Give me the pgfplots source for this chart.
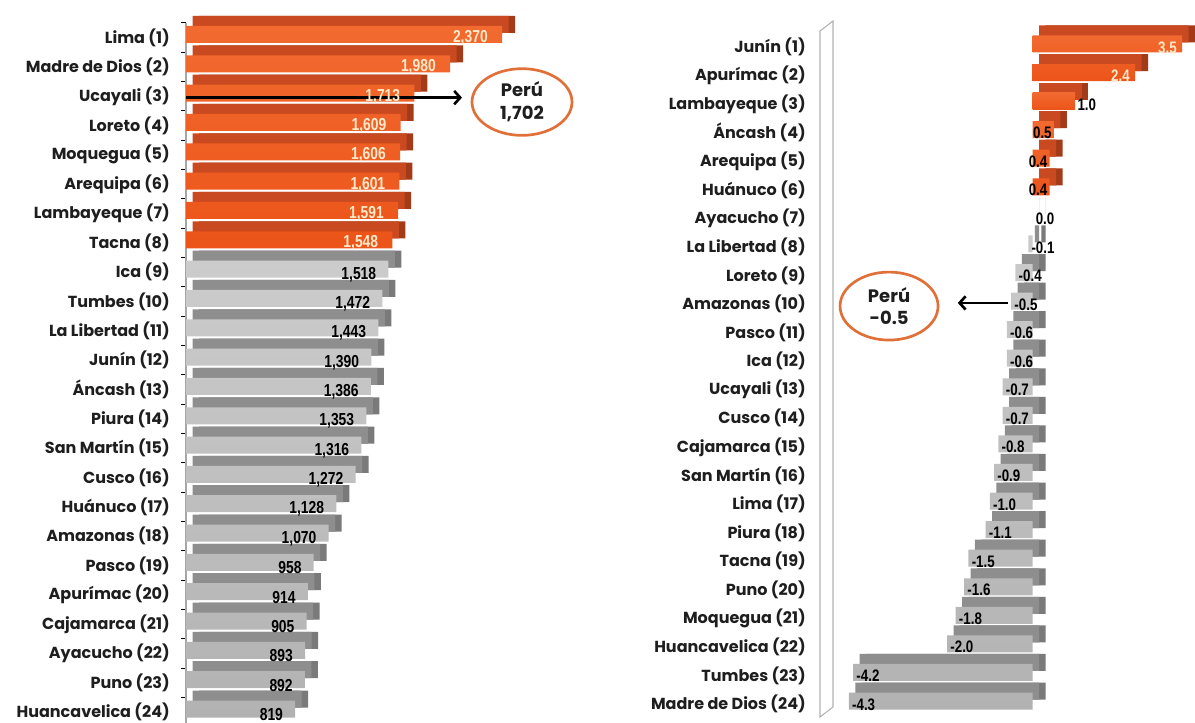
\documentclass[border=0pt]{standalone}
\usepackage{pgfplots}
\pgfplotsset{compat=1.18}
\usepackage{pgfplotstable}
\usetikzlibrary{arrows.meta}
\usepackage{fontspec}
\setmainfont{Poppins}
\newfontfamily\labfont{Poppins}
\newfontfamily\numfont[FakeStretch=0.8]{Liberation Sans}

% front (two tones), top and side faces
\definecolor{oF1}{HTML}{F26A30}
\definecolor{oF2}{HTML}{EC5419}
\definecolor{oT}{HTML}{C94A20}
\definecolor{oS}{HTML}{A33A18}
\definecolor{gF1}{HTML}{CCCCCC}
\definecolor{gF2}{HTML}{B2B2B2}
\definecolor{gT}{HTML}{8E8E8E}
\definecolor{gS}{HTML}{7A7A7A}
\definecolor{cream}{HTML}{FFE9C8}
\definecolor{ell}{HTML}{E07038}
\definecolor{txt}{HTML}{1E1E1E}

% left: ingreso promedio
\pgfplotstableread{
y v
1 2370
2 1980
3 1713
4 1609
5 1606
6 1601
7 1591
8 1548
}\leftA
\pgfplotstableread{
y v
9 1518
10 1472
11 1443
12 1390
13 1386
14 1353
15 1316
16 1272
17 1128
18 1070
19 958
20 914
21 905
22 893
23 892
24 819
}\leftB

% right: variacion
\pgfplotstableread{
y v
1 3.5
2 2.4
}\rightA
\pgfplotstableread{
y v
3 1.0
}\rightB
\pgfplotstableread{
y v
4 0.5
5 0.4
6 0.4
}\rightC
\pgfplotstableread{
y v
7 0.0
8 -0.1
9 -0.4
10 -0.5
11 -0.6
12 -0.6
13 -0.7
14 -0.7
15 -0.8
16 -0.9
17 -1.0
18 -1.1
19 -1.5
20 -1.6
21 -1.8
22 -2.0
23 -4.2
24 -4.3
}\rightD

% #1 table, #2 colour prefix (o/g), #3 label style
\newcommand{\threed}[3]{%
  \addplot[xbar,bar shift=0pt,bar width=12.75pt,draw=none,fill=#2S,
    xshift=9.75pt,yshift=9.75pt] table[x=v,y=y]{#1};
  \addplot[xbar,bar shift=0pt,bar width=12.75pt,draw=none,fill=#2T,
    xshift=4.875pt,yshift=9.75pt] table[x=v,y=y]{#1};
  \addplot[xbar,bar shift=0pt,bar width=12.75pt,draw=none,
    top color=#2F1,bottom color=#2F2,yshift=2.25pt,
    point meta=x,nodes near coords,
    every node near coord/.append style={inner sep=0pt,yshift=-2.5pt,#3}]
    table[x=v,y=y]{#1};
}

\begin{document}
\begin{tikzpicture}
\path[use as bounding box] (0,0) rectangle (896.25pt,542.25pt);

\begin{axis}[
  at={(139.5pt,-2.775pt)}, anchor=south west,
  scale only axis, width=260pt, height=527.9pt,
  xmin=0, xmax=2600, ymin=0.5, ymax=24.5,
  y dir=reverse, clip=false,
  axis x line=none, axis y line*=left,
  axis line style={gray!70,line width=0.8pt},
  xtick=\empty,
  ytick={1,...,24},
  yticklabels={Lima (1),Madre de Dios (2),Ucayali (3),Loreto (4),Moquegua (5),Arequipa (6),Lambayeque (7),Tacna (8),Ica (9),Tumbes (10),La Libertad (11),Junín (12),Áncash (13),Piura (14),San Martín (15),Cusco (16),Huánuco (17),Amazonas (18),Pasco (19),Apurímac (20),Cajamarca (21),Ayacucho (22),Puno (23),Huancavelica (24)},
  major tick length=3.75pt, tick align=outside,
  ytick style={black,line width=0.6pt,yshift=11pt},
  yticklabel style={font=\labfont\bfseries\fontsize{12}{13}\selectfont,text=txt,
    anchor=east,inner sep=0pt,xshift=-8.25pt},
  every node near coord/.append style={font=\numfont\bfseries\fontsize{13}{14}\selectfont,
    /pgf/number format/fixed,/pgf/number format/precision=0,
    /pgf/number format/1000 sep={,},/pgf/number format/assume math mode=true},
]
\threed{\leftA}{o}{anchor=east,xshift=-10.5pt,text=cream}
\threed{\leftB}{g}{anchor=east,xshift=-9pt,yshift=-1.5pt,text=black}
\draw[line width=2pt,-{Straight Barb[length=4.5pt,width=10pt,line width=2pt]}]
  (axis cs:0,3.05) -- (axis cs:2070,3.05);
\draw[ell,line width=2pt,fill=white] (axis cs:2520,3.2)
  ellipse [x radius=37.5pt,y radius=25pt];
\node[align=center,font=\labfont\bfseries\fontsize{13.5}{17}\selectfont,text=txt]
  at (axis cs:2520,3.2) {Perú\\1,702};
\end{axis}

% the thin wall of the right chart
\draw[gray!60,line width=0.8pt,fill=white]
  (615pt,519pt) -- (624.75pt,526.5pt) -- (624.75pt,12pt) -- (615pt,4.5pt) -- cycle;

\begin{axis}[
  at={(615pt,3.525pt)}, anchor=south west,
  scale only axis, width=281.1pt, height=514.2pt,
  xmin=-4.977, xmax=3.8, ymin=0.5, ymax=24.5,
  y dir=reverse, clip=false,
  axis line style={draw=none},
  xtick=\empty,
  ytick={1,...,24},
  yticklabels={Junín (1),Apurímac (2),Lambayeque (3),Áncash (4),Arequipa (5),Huánuco (6),Ayacucho (7),La Libertad (8),Loreto (9),Amazonas (10),Pasco (11),Ica (12),Ucayali (13),Cusco (14),Cajamarca (15),San Martín (16),Lima (17),Piura (18),Tacna (19),Puno (20),Moquegua (21),Huancavelica (22),Tumbes (23),Madre de Dios (24)},
  major tick length=0pt,
  yticklabel style={font=\labfont\bfseries\fontsize{12}{13}\selectfont,text=txt,
    anchor=east,inner sep=0pt,xshift=-10.5pt},
  every node near coord/.append style={font=\numfont\bfseries\fontsize{12.5}{13}\selectfont,
    /pgf/number format/fixed,/pgf/number format/fixed zerofill,
    /pgf/number format/precision=1,/pgf/number format/assume math mode=true},
]
\threed{\rightA}{o}{anchor=east,xshift=-3.75pt,text=cream}
\threed{\rightB}{o}{anchor=west,xshift=1.5pt,text=black}
\threed{\rightC}{o}{anchor=east,xshift=-1.5pt,text=black}
\threed{\rightD}{g}{anchor=west,xshift=2.25pt,text=black}
\draw[line width=2pt,-{Straight Barb[length=4.5pt,width=10pt,line width=2pt]}]
  (axis cs:-0.57,9.96) -- (axis cs:-1.75,9.96);
\draw[ell,line width=2pt,fill=white] (axis cs:-3.36,10.07)
  ellipse [x radius=36.75pt,y radius=25.5pt];
\node[align=center,font=\labfont\bfseries\fontsize{13.5}{17}\selectfont,text=txt]
  at (axis cs:-3.36,10.07) {Perú\\-0.5};
\end{axis}
\end{tikzpicture}
\end{document}
